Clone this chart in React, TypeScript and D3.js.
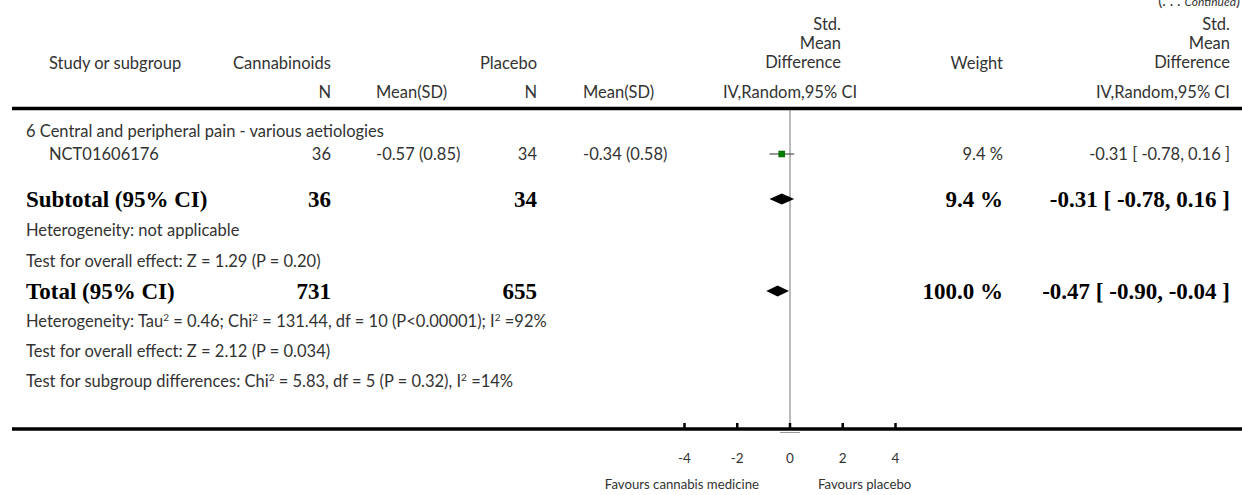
import React from "react";
import * as d3 from "d3";

// ---- data ----
const studyNames = ["NCT01606176"];
const cannN = [36];
const cannMeanSD = ["-0.57 (0.85)"];
const placN = [34];
const placMeanSD = ["-0.34 (0.58)"];
const studyWeight = [9.4];
const studySMD = [-0.31];
const studyLo = [-0.78];
const studyHi = [0.16];

const subgroupTitle = "6 Central and peripheral pain - various aetiologies";
const subtotalN = [36, 34];
const subtotalWeight = 9.4;
const subtotalEst = [-0.31, -0.78, 0.16];
const totalN = [731, 655];
const totalWeight = 100.0;
const totalEst = [-0.47, -0.9, -0.04];

const axisTicks = [-4, -2, 0, 2, 4];

const fmt2 = (v: number) => v.toFixed(2);
const ciText = (e: number[]) => `${fmt2(e[0])} [ ${fmt2(e[1])}, ${fmt2(e[2])} ]`;

export default function App() {
  const W = 1242;
  const H = 495;
  const x = d3.scaleLinear().domain([-4, 4]).range([684.5, 895.5]);

  const sans = "Lato, 'Open Sans', sans-serif";
  const serif = "'Liberation Serif', 'DejaVu Serif', serif";
  const txt = "#333";
  const fs = 16.5;
  const bfs = 23;

  const colN1 = 331;
  const colMS1 = 376;
  const colN2 = 537;
  const colMS2 = 583;
  const colW = 1003;
  const colCI = 1230;
  const left1 = 26;
  const left2 = 49;

  const rowStudy = 154;
  const rowSub = 199;
  const rowTotal = 291;

  const diamond = (e: number[], yc: number) => {
    const h = 5.5;
    return `M${x(e[1])},${yc} L${x(e[0])},${yc - h} L${x(e[2])},${yc} L${x(e[0])},${yc + h} Z`;
  };

  const sq = 6;
  const b = (c: number) => c + 6; // baseline for regular text centred at c
  const bb = (c: number) => c + 8; // baseline for bold text

  const sup = (s: string) => (
    <tspan dy={-6} fontSize={10}>{s}</tspan>
  );

  return (
    <svg width={W} height={H} style={{ position: "absolute", left: 0, top: 0, background: "#fff" }}>
      {/* continued */}
      <text x={1240} y={6} textAnchor="end" fontFamily={sans} fontSize={15} fill={txt}>
        (. . . <tspan fontStyle="italic" fontSize={12}>Continued</tspan>)
      </text>

      {/* header */}
      <g fontFamily={sans} fontSize={fs} fill={txt}>
        <text x={left2} y={b(63)}>Study or subgroup</text>
        <text x={233} y={b(63)}>Cannabinoids</text>
        <text x={480} y={b(63)}>Placebo</text>
        <text x={841} y={b(24)} textAnchor="end">Std.</text>
        <text x={841} y={b(43)} textAnchor="end">Mean</text>
        <text x={841} y={b(62)} textAnchor="end">Difference</text>
        <text x={1003} y={b(63)} textAnchor="end">Weight</text>
        <text x={colCI} y={b(24)} textAnchor="end">Std.</text>
        <text x={colCI} y={b(43)} textAnchor="end">Mean</text>
        <text x={colCI} y={b(62)} textAnchor="end">Difference</text>

        <text x={colN1} y={b(92)} textAnchor="end">N</text>
        <text x={colMS1} y={b(92)}>Mean(SD)</text>
        <text x={colN2} y={b(92)} textAnchor="end">N</text>
        <text x={colMS2} y={b(92)}>Mean(SD)</text>
        <text x={x(0)} y={b(92)} textAnchor="middle">IV,Random,95% CI</text>
        <text x={colCI} y={b(92)} textAnchor="end">IV,Random,95% CI</text>
      </g>
      <line x1={12} x2={W} y1={108.5} y2={108.5} stroke="#000" strokeWidth={3.5} />

      {/* zero line */}
      <line x1={x(0)} x2={x(0)} y1={110} y2={427} stroke="#777" strokeWidth={1} />

      {/* subgroup */}
      <g fontFamily={sans} fontSize={fs} fill={txt}>
        <text x={left1} y={b(131)}>{subgroupTitle}</text>
        {studyNames.map((nm, i) => {
          const y = b(rowStudy + i * 28);
          return (
            <g key={nm}>
              <text x={left2} y={y}>{nm}</text>
              <text x={colN1} y={y} textAnchor="end">{cannN[i]}</text>
              <text x={colMS1} y={y}>{cannMeanSD[i]}</text>
              <text x={colN2} y={y} textAnchor="end">{placN[i]}</text>
              <text x={colMS2} y={y}>{placMeanSD[i]}</text>
              <text x={colW} y={y} textAnchor="end">{studyWeight[i].toFixed(1)} %</text>
              <text x={colCI} y={y} textAnchor="end">{ciText([studySMD[i], studyLo[i], studyHi[i]])}</text>
            </g>
          );
        })}
      </g>
      {studyNames.map((nm, i) => {
        const yc = rowStudy + i * 28;
        return (
          <g key={nm + "m"}>
            <line x1={x(studyLo[i])} x2={x(studyHi[i])} y1={yc} y2={yc} stroke="#333" strokeWidth={1} />
            <rect x={x(studySMD[i]) - sq / 2} y={yc - sq / 2} width={sq} height={sq} fill="#008000" stroke="#004d00" strokeWidth={0.5} />
          </g>
        );
      })}

      {/* subtotal */}
      <g fontFamily={serif} fontSize={bfs} fontWeight="bold" fill="#000">
        <text x={left1} y={bb(rowSub)}>Subtotal (95% CI)</text>
        <text x={colN1} y={bb(rowSub)} textAnchor="end">{subtotalN[0]}</text>
        <text x={colN2} y={bb(rowSub)} textAnchor="end">{subtotalN[1]}</text>
        <text x={colW} y={bb(rowSub)} textAnchor="end">{subtotalWeight.toFixed(1)} %</text>
        <text x={colCI} y={bb(rowSub)} textAnchor="end">{ciText(subtotalEst)}</text>
      </g>
      <path d={diamond(subtotalEst, rowSub)} fill="#000" />

      <g fontFamily={sans} fontSize={fs} fill={txt}>
        <text x={left1} y={b(230)}>Heterogeneity: not applicable</text>
        <text x={left1} y={b(261)}>Test for overall effect: Z = 1.29 (P = 0.20)</text>
      </g>

      {/* total */}
      <g fontFamily={serif} fontSize={bfs} fontWeight="bold" fill="#000">
        <text x={left1} y={bb(rowTotal)}>Total (95% CI)</text>
        <text x={colN1} y={bb(rowTotal)} textAnchor="end">{totalN[0]}</text>
        <text x={colN2} y={bb(rowTotal)} textAnchor="end">{totalN[1]}</text>
        <text x={colW} y={bb(rowTotal)} textAnchor="end">{totalWeight.toFixed(1)} %</text>
        <text x={colCI} y={bb(rowTotal)} textAnchor="end">{ciText(totalEst)}</text>
      </g>
      <path d={diamond(totalEst, rowTotal)} fill="#000" />

      <g fontFamily={sans} fontSize={fs} fill={txt}>
        <text x={left1} y={b(321)}>
          Heterogeneity: Tau{sup("2")}
          <tspan dy={6}> = 0.46; Chi</tspan>{sup("2")}
          <tspan dy={6}> = 131.44, df = 10 (P&lt;0.00001); I</tspan>{sup("2")}
          <tspan dy={6}> =92%</tspan>
        </text>
        <text x={left1} y={b(351)}>Test for overall effect: Z = 2.12 (P = 0.034)</text>
        <text x={left1} y={b(381)}>
          Test for subgroup differences: Chi{sup("2")}
          <tspan dy={6}> = 5.83, df = 5 (P = 0.32), I</tspan>{sup("2")}
          <tspan dy={6}> =14%</tspan>
        </text>
      </g>

      {/* axis */}
      <line x1={12} x2={W} y1={429} y2={429} stroke="#000" strokeWidth={3.5} />
      <line x1={x(0) - 10} x2={x(0) + 10} y1={432.5} y2={432.5} stroke="#999" strokeWidth={1} />
      {axisTicks.map((t) => (
        <g key={t}>
          <line x1={x(t)} x2={x(t)} y1={423} y2={429} stroke="#000" strokeWidth={2.5} />
          <text x={x(t)} y={463} textAnchor="middle" fontFamily={sans} fontSize={13.5} fill={txt}>{t}</text>
        </g>
      ))}
      <text x={759} y={489} textAnchor="end" fontFamily={sans} fontSize={13.2} fill={txt}>Favours cannabis medicine</text>
      <text x={818} y={489} fontFamily={sans} fontSize={13.2} fill={txt}>Favours placebo</text>
    </svg>
  );
}
